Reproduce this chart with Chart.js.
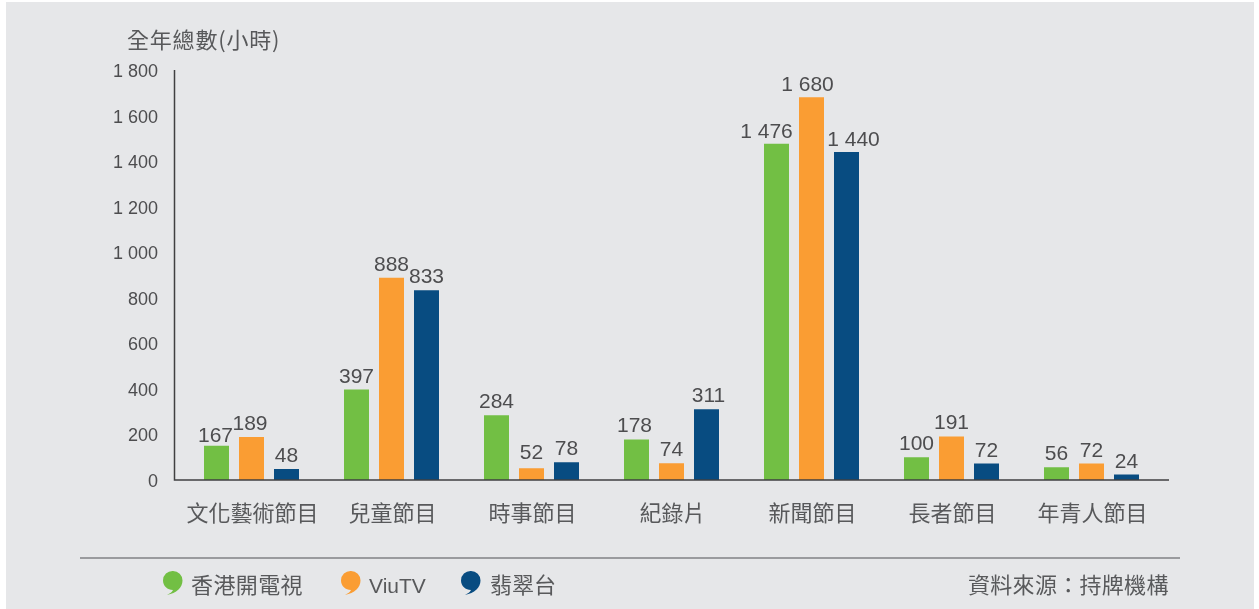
<!DOCTYPE html>
<html lang="zh-Hant">
<head>
<meta charset="utf-8">
<title>全年總數</title>
<script src="https://cdn.jsdelivr.net/npm/chart.js@4"></script>
<style>
  html, body { margin: 0; background: #fff; }
  #wrap { position: relative; width: 1259px; height: 609px; overflow: hidden; }
  #panel { position: absolute; left: 6px; top: 2px; width: 1248px; height: 607px; background: #e6e7e9; }
  canvas { position: absolute; left: 0; top: 0; }
  .txt { position: absolute; color: #58595b; font-family: "Noto Sans CJK TC", sans-serif; font-size: 22px; line-height: 30px; white-space: nowrap; font-weight: 400; }
  .mark { position: absolute; top: 570px; width: 20px; height: 26px; }
</style>
</head>
<body>
<div id="wrap">
  <div id="panel"></div>
  <canvas id="chart" width="1259" height="609"></canvas>
  <svg width="0" height="0" style="position:absolute"><defs><path id="comma" d="M10 1a9.5 9.5 0 0 1 9.5 9.5c0 7-6 12.500-15.500 14.500c3-1.500 5-3 6-5c-5.500 0-10-4-10-9.500A9.500 9.500 0 0 1 10 1z"/></defs></svg>
  <div class="txt" style="left:127px;top:23px;letter-spacing:.8px">全年總數(小時)</div>
  <svg class="mark" style="left:163px" viewBox="0 0 20 26"><use href="#comma" fill="#72bf44"/></svg>
  <div class="txt" style="left:191px;top:568px;letter-spacing:.4px">香港開電視</div>
  <svg class="mark" style="left:341px" viewBox="0 0 20 26"><use href="#comma" fill="#fa9d33"/></svg>
  <div class="txt" style="left:369px;top:571px;font-size:21px;font-family:'Liberation Sans',sans-serif">ViuTV</div>
  <svg class="mark" style="left:461px" viewBox="0 0 20 26"><use href="#comma" fill="#084c81"/></svg>
  <div class="txt" style="left:490px;top:568px">翡翠台</div>
  <div class="txt" style="left:968px;top:568px;letter-spacing:.3px">資料來源&#xFF1A;持牌機構</div>
</div>
<script>
const categories = ['文化藝術節目', '兒童節目', '時事節目', '紀錄片', '新聞節目', '長者節目', '年青人節目'];
// first green bar is drawn short in the source: printed 167, bar height reads about 150
const hkopen = [150, 397, 284, 178, 1476, 100, 56];
const hkopenPrinted = [167, 397, 284, 178, 1476, 100, 56];
const viutv = [189, 888, 52, 74, 1680, 191, 72];
const jade = [48, 833, 78, 311, 1440, 72, 24];
const yTicks = [0, 200, 400, 600, 800, 1000, 1200, 1400, 1600, 1800];

// 1 800 style numbers, same as the report
function spaced(n) {
  return String(n).replace(/\B(?=(\d{3})+$)/g, ' ');
}

// the original moves a few labels so they don't collide: [dx, dy]
const labelShift = {
  '0,0': [-1, 3], '1,0': [-1.5, 0],
  '0,3': [-2, 0], '2,3': [2, 0], '1,2': [0, -2],
  '0,4': [-10, 1], '1,4': [-4, 1], '2,4': [7, 1]
};

const valueLabels = {
  id: 'valueLabels',
  afterDatasetsDraw(chart) {
    const ctx = chart.ctx;
    ctx.save();
    ctx.font = '21px "Liberation Sans", sans-serif';
    ctx.fillStyle = '#4d4d4f';
    ctx.textAlign = 'center';
    ctx.textBaseline = 'alphabetic';
    chart.data.datasets.forEach((ds, i) => {
      const printed = i === 0 ? hkopenPrinted : ds.data;
      chart.getDatasetMeta(i).data.forEach((bar, j) => {
        const shift = labelShift[i + ',' + j] || [0, 0];
        ctx.fillText(spaced(printed[j]), bar.x + shift[0], bar.y - 7 + shift[1]);
      });
    });
    ctx.restore();
  }
};

// axes run a bit past the category band, plus the rule above the legend
const frame = {
  id: 'frame',
  afterDraw(chart) {
    const ctx = chart.ctx;
    const a = chart.chartArea;
    ctx.save();
    ctx.strokeStyle = '#404041';
    ctx.lineWidth = 1.5;
    ctx.beginPath();
    ctx.moveTo(a.left - 7, a.top);
    ctx.lineTo(a.left - 7, a.bottom);
    ctx.lineTo(a.right + 7.5, a.bottom);
    ctx.stroke();
    ctx.strokeStyle = '#808285';
    ctx.beginPath();
    ctx.moveTo(80, 558);
    ctx.lineTo(1180, 558);
    ctx.stroke();
    ctx.restore();
  }
};

new Chart(document.getElementById('chart'), {
  type: 'bar',
  data: {
    labels: categories,
    datasets: [
      { label: '香港開電視', data: hkopen, backgroundColor: '#72bf44' },
      { label: 'ViuTV', data: viutv, backgroundColor: '#fa9d33' },
      { label: '翡翠台', data: jade, backgroundColor: '#084c81' }
    ]
  },
  plugins: [valueLabels, frame],
  options: {
    responsive: false,
    animation: false,
    categoryPercentage: 0.75,
    barPercentage: 25 / 35,
    layout: { padding: { top: 70, right: 97.5, left: 0, bottom: 0 } },
    plugins: { legend: { display: false }, tooltip: { enabled: false } },
    scales: {
      x: {
        grid: { display: false, drawTicks: false },
        border: { display: false },
        afterFit: s => { s.height = 129; },
        ticks: {
          color: '#58595b',
          padding: 19,
          labelOffset: 1,
          maxRotation: 0,
          autoSkip: false,
          font: { family: '"Noto Sans CJK TC", sans-serif', size: 22 }
        }
      },
      y: {
        min: 0,
        max: 1800,
        grid: { display: false, drawTicks: false },
        border: { display: false },
        afterFit: s => { s.width = 181.5; },
        afterBuildTicks: s => { s.ticks = yTicks.map(v => ({ value: v })); },
        ticks: {
          color: '#4d4d4f',
          padding: 23.5,
          labelOffset: 2,
          callback: v => spaced(v),
          font: { family: '"Liberation Sans", sans-serif', size: 18 }
        }
      }
    }
  }
});
</script>
</body>
</html>
